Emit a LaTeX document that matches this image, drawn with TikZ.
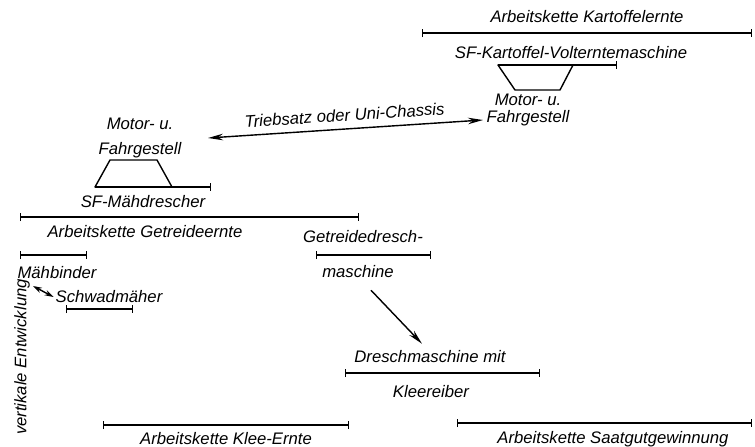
\documentclass[tikz,border=0pt]{standalone}
\usepackage{fontspec}
\setmainfont{Liberation Sans}
\usetikzlibrary{arrows.meta}

\begin{document}
\begin{tikzpicture}[
    bar/.style={thick, {Bar[width=1.6mm]}-{Bar[width=1.6mm]}},
    halfbar/.style={thick, -{Bar[width=1.6mm]}},
    lbl/.style={font=\fontsize{9.5}{11}\selectfont\itshape, inner sep=1pt},
    machine/.style={thick, line join=round},
    link/.style={thick, -{Stealth[length=3mm,width=1.3mm]}},
    twoway/.style={thick, {Stealth[length=3mm,width=1.3mm]}-{Stealth[length=3mm,width=1.3mm]}},
    shortway/.style={thick, {Stealth[length=1.8mm,width=1.1mm]}-{Stealth[length=1.8mm,width=1.1mm]}}
]
    \useasboundingbox (0,0) rectangle (15.1,-8.92);

    % Arbeitskette Kartoffelernte
    \node[lbl] (kette1) at (11.74,-0.34) {Arbeitskette Kartoffelernte};
    \draw[bar] (8.44,-0.66) -- (15.04,-0.66);
    \node[lbl] (vollernter) at (11.42,-1.06) {SF-Kartoffel-Volterntemaschine};
    \draw[halfbar] (9.96,-1.30) -- (12.34,-1.30);
    \draw[machine] (9.96,-1.30) -- (11.46,-1.30) -- (11.20,-1.80) -- (10.30,-1.80) -- cycle;
    \node[lbl, align=center] (motorR) at (10.56,-2.20) {Motor- u.\\[-1pt]Fahrgestell};

    % Triebsatz
    \coordinate (chassisL) at (4.16,-2.76);
    \coordinate (chassisR) at (9.66,-2.40);
    \draw[twoway] (chassisL) -- (chassisR)
        node[midway, above=3pt, sloped, lbl] (triebsatz) {Triebsatz oder Uni-Chassis};

    % Maehdrescher
    \node[lbl, align=center] (motorL) at (2.80,-2.76) {Motor- u.\\[3pt]Fahrgestell};
    \draw[machine] (2.20,-3.20) -- (3.14,-3.20) -- (3.44,-3.74) -- (1.90,-3.74) -- cycle;
    \draw[halfbar] (1.90,-3.74) -- (4.22,-3.74);
    \node[lbl] (maehdrescher) at (2.86,-4.04) {SF-Mähdrescher};

    % Arbeitskette Getreideernte
    \draw[bar] (0.40,-4.34) -- (7.18,-4.34);
    \node[lbl] (kette2) at (2.90,-4.64) {Arbeitskette Getreideernte};

    % Getreidedreschmaschine
    \node[lbl] (dreschA) at (7.26,-4.74) {Getreidedresch-};
    \draw[bar] (6.32,-5.10) -- (8.62,-5.10);
    \node[lbl] (dreschB) at (7.16,-5.44) {maschine};

    % Dreschmaschine mit Kleereiber
    \node[lbl] (kleeA) at (8.60,-7.14) {Dreschmaschine mit};
    \draw[bar] (6.90,-7.46) -- (10.80,-7.46);
    \node[lbl] (kleeB) at (8.62,-7.84) {Kleereiber};
    \draw[link] ([xshift=0.26cm,yshift=-0.2cm]dreschB.south) -- ([xshift=-0.16cm,yshift=0.1cm]kleeA.north);

    % Maehbinder, Schwadmaeher
    \draw[bar] (0.40,-5.10) -- (1.74,-5.10);
    \node[lbl] (maehbinder) at (1.14,-5.46) {Mähbinder};
    \node[lbl] (schwadmaeher) at (2.18,-5.94) {Schwadmäher};
    \draw[bar] (1.32,-6.18) -- (2.66,-6.18);
    \coordinate (binderout) at (0.66,-5.72);
    \draw[shortway] (binderout) -- (schwadmaeher.west);

    \node[lbl, rotate=90] (vertikal) at (0.44,-7.14) {vertikale Entwicklung};

    % Arbeitsketten unten
    \draw[bar] (2.06,-8.50) -- (6.98,-8.50);
    \node[lbl] (kette3) at (4.52,-8.78) {Arbeitskette Klee-Ernte};
    \draw[bar] (9.14,-8.46) -- (15.04,-8.46);
    \node[lbl] (kette4) at (12.26,-8.78) {Arbeitskette Saatgutgewinnung};
\end{tikzpicture}
\end{document}
